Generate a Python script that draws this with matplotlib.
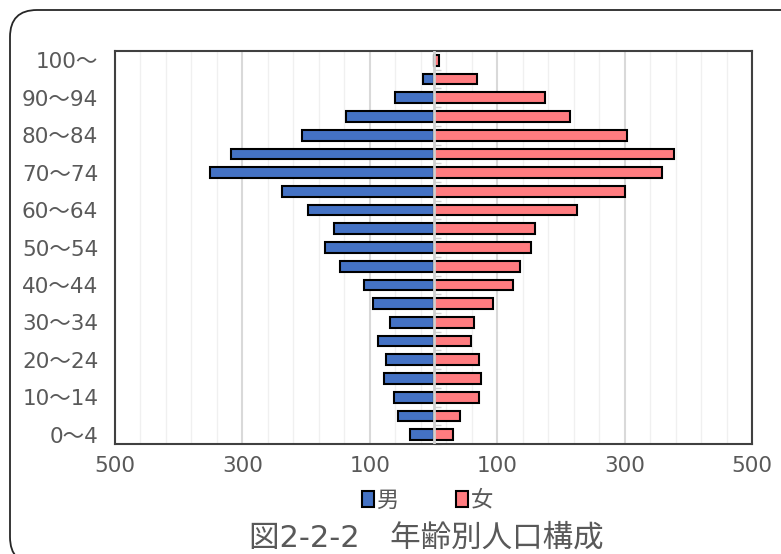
import matplotlib.pyplot as plt
import numpy as np
from matplotlib.patches import FancyBboxPatch

plt.rcParams['font.family'] = ['Noto Sans CJK JP', 'DejaVu Sans']

# 年齢階級 (0～4 ... 100～)
eta = ['0～4', '5～9', '10～14', '15～19', '20～24', '25～29', '30～34', '35～39',
       '40～44', '45～49', '50～54', '55～59', '60～64', '65～69', '70～74',
       '75～79', '80～84', '85～89', '90～94', '95～99', '100～']
maschi = [37, 55, 62, 78, 75, 87, 69, 95, 109, 146, 170, 156, 197, 238, 351,
          318, 207, 137, 61, 16, 0]
femmine = [30, 41, 71, 75, 72, 59, 64, 94, 125, 136, 153, 159, 225, 301, 359,
           378, 304, 215, 175, 69, 9]
tick_x = [-500, -300, -100, 100, 300, 500]

grigio = '#595959'
font_num = ['DejaVu Sans', 'Noto Sans CJK JP']

fig = plt.figure(figsize=(7.81, 5.54), dpi=100)

# cornice arrotondata (esce dal bordo in basso e a destra)
cornice = FancyBboxPatch((0.10, -0.10), 8.0, 5.54,
                         boxstyle='round,pad=0,rounding_size=0.27',
                         transform=fig.dpi_scale_trans, fill=False,
                         edgecolor='#262626', linewidth=1.3)
fig.patches.append(cornice)

ax = fig.add_axes([115 / 781, 110 / 554, 637 / 781, 393 / 554])
y = np.arange(len(eta))

ax.barh(y, -np.array(maschi), height=0.58, color='#4472c4', edgecolor='black',
        linewidth=1.5, zorder=3, label='男')
ax.barh(y, femmine, height=0.58, color='#ff7c80', edgecolor='black',
        linewidth=1.5, zorder=3, label='女')

ax.set_xlim(-500, 500)
ax.set_ylim(-0.5, len(eta) - 0.5)

ax.set_xticks(tick_x)
ax.set_xticklabels([str(abs(v)) for v in tick_x], family=font_num)
ax.set_xticks(np.arange(-500, 501, 40), minor=True)
ax.grid(axis='x', which='minor', color='#f0f0f0', linewidth=1, zorder=0)
ax.grid(axis='x', which='major', color='#d9d9d9', linewidth=1.5, zorder=0)

ax.set_yticks(y[::2])
ax.set_yticklabels(eta[::2], family=font_num)
ax.tick_params(axis='both', which='both', length=0, colors=grigio, labelsize=15.5)
ax.tick_params(axis='y', pad=12)
ax.tick_params(axis='x', pad=9)

for s in ax.spines.values():
    s.set_color('#404040')
    s.set_linewidth(1.5)

# asse centrale
ax.axvline(0, color='#d0d0d0', linewidth=2, zorder=4)
sec = ax.secondary_yaxis(0.5)
sec.spines['right'].set_visible(False)
sec.spines['left'].set_linewidth(0)
sec.set_yticks(np.arange(-0.5, len(eta), 1))
sec.set_yticklabels([])
sec.tick_params(length=5, width=1, color='#d0d0d0', direction='out')

leg = fig.legend(*ax.get_legend_handles_labels(), loc='center',
                 bbox_to_anchor=(0.547, 1 - 500 / 554), ncol=2,
                 frameon=False, fontsize=16, handlelength=0.55, handleheight=0.7,
                 handletextpad=0.1, columnspacing=2.6)
for t in leg.get_texts():
    t.set_color(grigio)

fig.text(0.546, 1 - 538 / 554, '図2-2-2　年齢別人口構成', ha='center', va='center',
         fontsize=22, color=grigio, family=font_num)

fig.savefig('out.png', dpi=100)
